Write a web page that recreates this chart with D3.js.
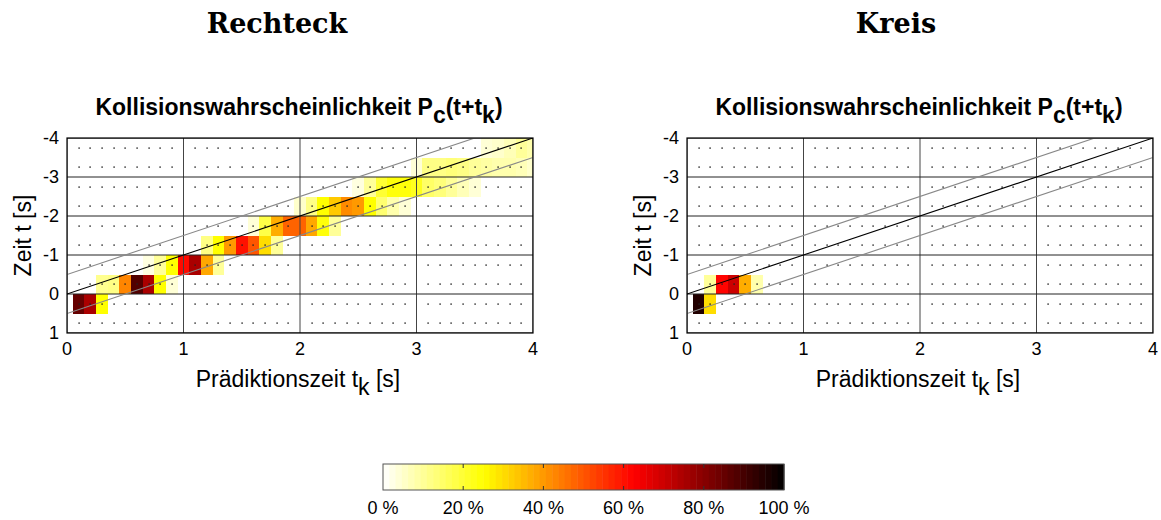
<!DOCTYPE html>
<html>
<head>
<meta charset="utf-8">
<script src="https://cdn.jsdelivr.net/npm/d3@7"></script>
<style>
  body { margin: 0; background: #fff; }
  text { font-family: "Liberation Sans", Arial, sans-serif; fill: #000; }
</style>
</head>
<body>
<main></main>
<script>
// Kollisionswahrscheinlichkeit - Rechteck vs. Kreis

// data
const panelTitles = ["Rechteck", "Kreis"];
const xTicks = [0, 1, 2, 3, 4];
const yTicks = [-4, -3, -2, -1, 0, 1];
const cbTicks = [0, 20, 40, 60, 80, 100];
const refOffsets = [-0.5, 0, 0.5];          // t = -tk + offset

// row centres of the t grid (0.5 s bins)
const rowT = [0.25, -0.25, -0.75, -1.25, -1.75, -2.25, -2.75, -3.25, -3.75];

// first tk (0.1 s bins) of each row and the probabilities in % (Rechteck)
const rechteckStart = [0.1, 0.3, 0.7, 1.2, 1.6, 2.0, 2.5, 3.0, 3.6];
const rechteckP = [
  [85, 75, 25],
  [11, 12, 43, 88, 75, 25, 4],
  [3, 10, 25, 61, 75, 38, 10],
  [12, 25, 40, 60, 50, 30, 10],
  [4, 18, 37, 48, 48, 38, 24, 10],
  [5, 12, 25, 33, 42, 40, 25, 14, 8, 4],
  [3, 10, 20, 24, 24, 22, 15, 13, 10, 7, 4],
  [4, 12, 12, 13, 12, 10, 9, 8, 8, 7, 5],
  [4, 5, 7, 10, 8]
];

// Kreis
const kreisStart = [0.1, 0.2];
const kreisP = [
  [95, 30],
  [10, 62, 70, 37, 8]
];

// layout
const W = 1161, H = 520;
const axLeft = [67, 687];
const axW = 466, axTop = 138, axBottom = 333;

const svg = d3.select("main").append("svg")
  .attr("width", W).attr("height", H);

// flipped "hot" colormap
const color = d3.scaleLinear()
  .domain([0, 25, 62.5, 100])
  .range(["#ffffff", "#ffff00", "#ff0000", "#000000"])
  .clamp(true);

function cellsFrom(start, vals) {
  let out = [];
  vals.forEach((row, i) => {
    row.forEach((p, j) => {
      out.push({ tk: Math.round((start[i] + 0.1 * j) * 10) / 10, t: rowT[i], p: p });
    });
  });
  return out;
}

const panelCells = [cellsFrom(rechteckStart, rechteckP), cellsFrom(kreisStart, kreisP)];

panelTitles.forEach((name, pi) => {
  const x0 = axLeft[pi];
  const x = d3.scaleLinear().domain([0, 4]).range([x0, x0 + axW]);
  const y = d3.scaleLinear().domain([-4, 1]).range([axTop, axBottom]);
  const cx = x0 + axW / 2;

  const g = svg.append("g");

  // big heading
  g.append("text")
    .attr("x", pi === 0 ? 277 : 896)
    .attr("y", 33)
    .attr("text-anchor", "middle")
    .style("font-family", "'DejaVu Serif', serif")
    .style("font-weight", "bold")
    .style("font-size", "27px")
    .text(name);

  // axes title
  const tt = g.append("text")
    .attr("x", cx - 1).attr("y", 115)
    .attr("text-anchor", "middle")
    .style("font-weight", "bold")
    .style("font-size", "23px");
  tt.append("tspan").text("Kollisionswahrscheinlichkeit P");
  tt.append("tspan").attr("dy", 8).text("c");
  tt.append("tspan").attr("dy", -8).text("(t+t");
  tt.append("tspan").attr("dy", 8).text("k");
  tt.append("tspan").attr("dy", -8).text(")");

  // clip
  const clipId = "clip" + pi;
  svg.append("clipPath").attr("id", clipId)
    .append("rect")
    .attr("x", x(0)).attr("y", y(-4))
    .attr("width", x(4) - x(0)).attr("height", y(1) - y(-4));

  const plot = g.append("g").attr("clip-path", "url(#" + clipId + ")");

  // cells
  plot.selectAll("rect.cell")
    .data(panelCells[pi])
    .enter()
    .append("rect")
    .attr("class", "cell")
    .attr("x", d => x(d.tk - 0.05))
    .attr("y", d => y(d.t - 0.25))
    .attr("width", d => x(d.tk + 0.05) - x(d.tk - 0.05))
    .attr("height", d => y(d.t + 0.25) - y(d.t - 0.25))
    .attr("fill", d => color(d.p))
    .attr("shape-rendering", "crispEdges");

  // minor dotted grid
  const dots = [];
  d3.range(1, 40).forEach(i => {
    if (i % 10 === 0) return;
    rowT.concat([0.75]).forEach(t => dots.push([i / 10, t]));
  });
  plot.selectAll("rect.dot")
    .data(dots)
    .enter()
    .append("rect")
    .attr("class", "dot")
    .attr("x", d => Math.round(x(d[0])) - 0.6)
    .attr("y", d => Math.round(y(d[1])) - 0.6)
    .attr("width", 1.4).attr("height", 1.4)
    .attr("fill", "#222");

  // major grid
  plot.selectAll("line.gx")
    .data(xTicks)
    .enter()
    .append("line")
    .attr("x1", d => x(d)).attr("x2", d => x(d))
    .attr("y1", y(-4)).attr("y2", y(1))
    .attr("stroke", "#444").attr("stroke-width", 1);
  plot.selectAll("line.gy")
    .data(yTicks)
    .enter()
    .append("line")
    .attr("x1", x(0)).attr("x2", x(4))
    .attr("y1", d => y(d)).attr("y2", d => y(d))
    .attr("stroke", "#222").attr("stroke-width", 1);

  // reference lines
  plot.selectAll("line.ref")
    .data(refOffsets)
    .enter()
    .append("line")
    .attr("x1", x(0)).attr("x2", x(4))
    .attr("y1", d => y(-0 + d)).attr("y2", d => y(-4 + d))
    .attr("stroke", d => d === 0 ? "#000" : "#888")
    .attr("stroke-width", 1.1);

  // box
  g.append("rect")
    .attr("x", x(0)).attr("y", y(-4))
    .attr("width", x(4) - x(0)).attr("height", y(1) - y(-4))
    .attr("fill", "none").attr("stroke", "#000").attr("stroke-width", 1.2);

  // tick labels
  g.selectAll("text.xt")
    .data(xTicks)
    .enter()
    .append("text")
    .attr("x", d => x(d)).attr("y", axBottom + 17)
    .attr("text-anchor", "middle")
    .attr("dominant-baseline", "middle")
    .style("font-size", "18px")
    .text(d => d);
  g.selectAll("text.yt")
    .data(yTicks)
    .enter()
    .append("text")
    .attr("x", x0 - 8).attr("y", d => y(d) + 1)
    .attr("text-anchor", "end")
    .attr("dominant-baseline", "middle")
    .style("font-size", "18px")
    .text(d => d);

  // axis labels
  const xl = g.append("text")
    .attr("x", cx - 2).attr("y", 387)
    .attr("text-anchor", "middle")
    .style("font-size", "23px");
  xl.append("tspan").text("Prädiktionszeit t");
  xl.append("tspan").attr("dy", 8).text("k");
  xl.append("tspan").attr("dy", -8).text(" [s]");

  g.append("text")
    .attr("transform", "translate(" + (x0 - 36) + "," + ((axTop + axBottom) / 2) + ") rotate(-90)")
    .attr("text-anchor", "middle")
    .style("font-size", "23px")
    .text("Zeit t [s]");
});

// colorbar
const cbX = d3.scaleLinear().domain([0, 100]).range([383, 784]);
const cbTop = 464, cbH = 26;
const nColors = 64;
svg.append("g").selectAll("rect")
  .data(d3.range(nColors))
  .enter()
  .append("rect")
  .attr("x", i => cbX(i * 100 / nColors))
  .attr("y", cbTop)
  .attr("width", cbX(100 / nColors) - cbX(0) + 0.5)
  .attr("height", cbH)
  .attr("fill", i => color((i + 0.5) * 100 / nColors));

svg.append("rect")
  .attr("x", cbX(0)).attr("y", cbTop)
  .attr("width", cbX(100) - cbX(0)).attr("height", cbH)
  .attr("fill", "none").attr("stroke", "#555").attr("stroke-width", 1);

const cbTickG = svg.append("g");
cbTickG.selectAll("line.t1")
  .data(cbTicks.slice(1, -1))
  .enter()
  .append("line")
  .attr("x1", d => cbX(d)).attr("x2", d => cbX(d))
  .attr("y1", cbTop).attr("y2", cbTop + 4)
  .attr("stroke", "#333");
cbTickG.selectAll("line.t2")
  .data(cbTicks.slice(1, -1))
  .enter()
  .append("line")
  .attr("x1", d => cbX(d)).attr("x2", d => cbX(d))
  .attr("y1", cbTop + cbH - 4).attr("y2", cbTop + cbH)
  .attr("stroke", "#333");

svg.append("g").selectAll("text")
  .data(cbTicks)
  .enter()
  .append("text")
  .attr("x", d => cbX(d)).attr("y", 509)
  .attr("text-anchor", "middle")
  .attr("dominant-baseline", "middle")
  .style("font-size", "18px")
  .text(d => d + " %");
</script>
</body>
</html>
